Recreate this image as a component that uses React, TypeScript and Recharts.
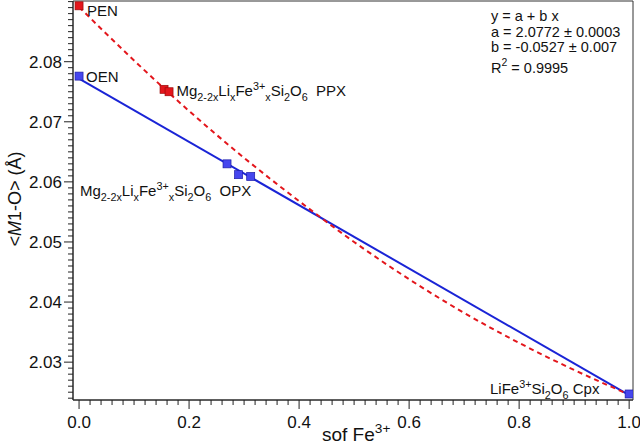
import { ComposedChart, Line, Scatter, XAxis, YAxis, ReferenceArea } from 'recharts'

const FONT = '"Liberation Sans", Arial, Helvetica, sans-serif'

// axes (sof Fe3+ vs <M1-O>)
const X_DOMAIN = [-0.011, 1.007]
const X_LABELS = [0, 0.2, 0.4, 0.6, 0.8, 1.0]
const X_MINOR_STEP = 0.02
const Y_DOMAIN = [2.0237, 2.0901]
const Y_LABELS = [2.03, 2.04, 2.05, 2.06, 2.07, 2.08]
const Y_MINOR_STEP = 0.001

// red squares: PEN + Mg2-2xLixFe3+xSi2O6 PPX
const RED_X = [0, 0.1545, 0.1636]
const RED_Y = [2.0893, 2.0754, 2.075]

// blue squares: OEN, OPX (3), LiFe3+Si2O6 Cpx
const BLUE_X = [0, 0.269, 0.29, 0.312, 1.0]
const BLUE_Y = [2.0776, 2.063, 2.0612, 2.0609, 2.0247]

// linear fit y = a + b x (blue)
const FIT_X = [0, 1.0]
const FIT_Y = [2.0772, 2.0245]

// red dashed curve
const CURVE_X = [0, 0.1, 0.2, 0.3, 0.4, 0.5, 0.6, 0.7, 0.8, 0.9, 1.0]
const CURVE_Y = [2.0891, 2.0802, 2.0718, 2.064, 2.0568, 2.05, 2.0438, 2.0382, 2.0332, 2.0287, 2.0246]

const zip = (xs: number[], ys: number[]) => xs.map((x, i) => ({ x, y: ys[i] }))

const redPoints = zip(RED_X, RED_Y)
const bluePoints = zip(BLUE_X, BLUE_Y)
const fitLine = zip(FIT_X, FIT_Y)
const curveLine = zip(CURVE_X, CURVE_Y)

function minorTicks(domain: number[], step: number) {
  const out: number[] = []
  for (let i = Math.ceil(domain[0] / step - 1e-9); i <= Math.floor(domain[1] / step + 1e-9); i++) {
    out.push(Math.round(i * step * 1e6) / 1e6)
  }
  return out
}

const inList = (v: number, list: number[]) => list.some((l) => Math.abs(l - v) < 1e-7)

const X_TICKS = minorTicks(X_DOMAIN, X_MINOR_STEP)
const Y_TICKS = minorTicks(Y_DOMAIN, Y_MINOR_STEP)

const AXIS = '#222'
const RED = '#e3161c'
const RED_EDGE = '#9a0a0a'
const BLUE = '#4646ee'
const BLUE_EDGE = '#1c1ca8'
const BLUE_LINE = '#1a24d6'

function XTick(props: any) {
  const { x, y, payload } = props
  const major = inList(payload.value, X_LABELS)
  return (
    <g>
      <line x1={x} x2={x} y1={y} y2={y + (major ? 9 : 5)} stroke={AXIS} strokeWidth={1} />
      {major && (
        <text x={x} y={y + 27.5} textAnchor="middle" fontSize={17} fontFamily={FONT} fill="#111">
          {payload.value.toFixed(1)}
        </text>
      )}
    </g>
  )
}

function YTick(props: any) {
  const { x, y, payload } = props
  const major = inList(payload.value, Y_LABELS)
  return (
    <g>
      <line x1={x} x2={x - (major ? 9 : 5)} y1={y} y2={y} stroke={AXIS} strokeWidth={1} />
      {major && (
        <text x={x - 11} y={y + 6} textAnchor="end" fontSize={17} fontFamily={FONT} fill="#111">
          {payload.value.toFixed(2)}
        </text>
      )}
    </g>
  )
}

const square = (fill: string, edge: string) => (props: any) =>
  <rect x={props.cx - 4} y={props.cy - 4} width={8} height={8} fill={fill} stroke={edge} strokeWidth={0.7} />

type Part = [string, 'n' | 'b' | 's']

function Rich({ x, y, parts, size = 15 }: { x: number; y: number; parts: Part[]; size?: number }) {
  let cur = 0
  return (
    <text x={x} y={y} fontSize={size} fontFamily={FONT} fill="#111" style={{ whiteSpace: 'pre' }}>
      {parts.map(([t, k], i) => {
        const target = k === 'b' ? size * 0.3 : k === 's' ? -size * 0.42 : 0
        const dy = target - cur
        cur = target
        return (
          <tspan key={i} dy={dy} fontSize={k === 'n' ? size : size * 0.72}>
            {t}
          </tspan>
        )
      })}
    </text>
  )
}

const formula = (tail: string): Part[] => [
  ['Mg', 'n'], ['2-2x', 'b'], ['Li', 'n'], ['x', 'b'], ['Fe', 'n'], ['3+', 's'], ['x', 'b'],
  ['Si', 'n'], ['2', 'b'], ['O', 'n'], ['6', 'b'], [tail, 'n'],
]

function Annotations() {
  return (
    <svg width={640} height={444} style={{ position: 'absolute', left: 0, top: 0, pointerEvents: 'none' }}>
      <text x={87} y={15.5} fontSize={15} fontFamily={FONT} fill="#111">PEN</text>
      <text x={86} y={82} fontSize={15} fontFamily={FONT} fill="#111">OEN</text>
      <Rich x={176.5} y={96} parts={formula('  PPX')} />
      <Rich x={80} y={196} parts={formula('  OPX')} />
      <Rich x={490} y={394} parts={[['LiFe', 'n'], ['3+', 's'], ['Si', 'n'], ['2', 'b'], ['O', 'n'], ['6', 'b'], [' Cpx', 'n']]} />

      <g fontSize={14.5} fontFamily={FONT} fill="#111">
        <text x={491} y={21}>y = a + b x</text>
        <text x={491} y={36.5}>a = 2.0772 ± 0.0003</text>
        <text x={491} y={51.5}>b = -0.0527 ± 0.007</text>
      </g>
      <Rich x={491} y={72.5} size={14.5} parts={[['R', 'n'], ['2', 's'], [' = 0.9995', 'n']]} />

      <Rich x={322} y={441} size={19} parts={[['sof Fe', 'n'], ['3+', 's']]} />
      <text
        transform="translate(20.5 199) rotate(-90)"
        textAnchor="middle"
        fontSize={18}
        fontFamily={FONT}
        fill="#111"
      >
        <tspan>{'<'}</tspan>
        <tspan fontStyle="italic">M</tspan>
        <tspan>{'1-O> (Å)'}</tspan>
      </text>
    </svg>
  )
}

export default function App() {
  return (
    <div style={{ position: 'fixed', left: 0, top: 0, width: 640, height: 444, background: '#fff' }}>
      <ComposedChart width={640} height={444} margin={{ top: 1, right: 7, bottom: 0, left: 0 }}>
        <XAxis
          dataKey="x"
          type="number"
          domain={X_DOMAIN}
          allowDataOverflow
          ticks={X_TICKS}
          interval={0}
          height={44}
          tickSize={0}
          tickMargin={0}
          tick={(p: any) => <XTick {...p} />}
          axisLine={{ stroke: AXIS, strokeWidth: 1 }}
          tickLine={false}
        />
        <YAxis
          dataKey="y"
          type="number"
          domain={Y_DOMAIN}
          allowDataOverflow
          ticks={Y_TICKS}
          interval={0}
          width={73}
          tickSize={0}
          tickMargin={0}
          tick={(p: any) => <YTick {...p} />}
          axisLine={{ stroke: AXIS, strokeWidth: 1 }}
          tickLine={false}
        />
        <ReferenceArea
          x1={X_DOMAIN[0]}
          x2={X_DOMAIN[1]}
          y1={Y_DOMAIN[0]}
          y2={Y_DOMAIN[1]}
          fill="none"
          stroke="#333"
          strokeWidth={1}
          fillOpacity={0}
          ifOverflow="visible"
        />
        <Line
          data={fitLine}
          dataKey="y"
          type="linear"
          stroke={BLUE_LINE}
          strokeWidth={2}
          dot={false}
          activeDot={false}
          isAnimationActive={false}
        />
        <Line
          data={curveLine}
          dataKey="y"
          type="monotone"
          stroke={RED}
          strokeWidth={2}
          strokeDasharray="5 4"
          dot={false}
          activeDot={false}
          isAnimationActive={false}
        />
        <Scatter data={redPoints} dataKey="y" shape={square(RED, RED_EDGE)} isAnimationActive={false} />
        <Scatter data={bluePoints} dataKey="y" shape={square(BLUE, BLUE_EDGE)} isAnimationActive={false} />
      </ComposedChart>
      <Annotations />
    </div>
  )
}
